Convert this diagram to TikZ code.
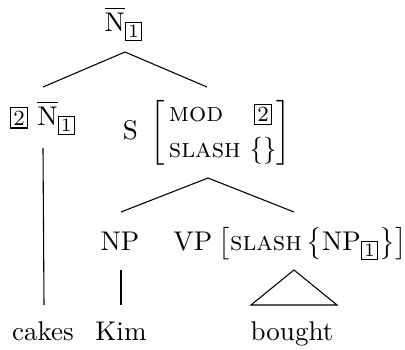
\documentclass[tikz,border=0pt]{standalone}
\usepackage{amsmath}
\usetikzlibrary{calc}
\newcommand{\tagbox}[2][\footnotesize]{{\setlength{\fboxsep}{0.9pt}\setlength{\fboxrule}{0.4pt}\fbox{#1#2}}}
\newcommand{\subtag}[1]{\hbox{\setlength{\fboxsep}{0.8pt}\setlength{\fboxrule}{0.4pt}\fbox{\scriptsize#1}}}
\newcommand{\Nbar}{\overline{\mathrm{N}}}
\begin{document}
\begin{tikzpicture}[x=0.37pt,y=-0.37pt,
  lbl/.style={inner sep=0pt, anchor=base},
  edge/.style={draw=black, line width=0.4pt}]
\useasboundingbox (0,0) rectangle (405,349);
% nodes
\node[lbl] (root) at (124,31) {$\Nbar_{\subtag{1}}$};
\node[lbl] (left) at (43,125) {\tagbox{2}\ $\Nbar_{\subtag{1}}$};
\node[inner sep=0pt, anchor=center] (S) at (207,133) {S\hspace{0.45em}$\left[\begin{array}{@{\,}l@{\ }c@{}}\textsc{mod} & \text{\tagbox{2}}\\[1pt] \textsc{slash} & \{\}\end{array}\right]$};
\node[lbl] (NP) at (120,250) {NP};
\node[lbl] (VP) at (290,250) {VP\hspace{0.25em}$\bigl[\textsc{slash}\,\bigl\{\mathrm{NP}_{\subtag{1}}\bigr\}\bigr]$};
\node[lbl] (cakes) at (43,340) {cakes};
\node[lbl] (Kim) at (121,340) {Kim};
\node[lbl] (bought) at (292,340) {bought};
% connectors
\draw[edge] ($(root.base)+(1,21)$) -- ($(left.base)+(0,-38)$);
\draw[edge] ($(root.base)+(1,21)$) -- ($(S.center)+(0,-46)$);
\draw[edge] ($(left.base)+(0,23)$) -- ($(cakes.base)+(1,-35)$);
\draw[edge] ($(S.center)+(1,45)$) -- ($(NP.base)+(1,-38)$);
\draw[edge] ($(S.center)+(1,45)$) -- ($(VP.base)+(4,-38)$);
\draw[edge] ($(NP.base)+(1,20)$) -- ($(Kim.base)+(0,-35)$);
\draw[edge] ($(VP.base)+(4,20)$) -- ($(bought.base)+(-41,-35)$) -- ($(bought.base)+(45,-35)$) -- cycle;
\end{tikzpicture}
\end{document}
